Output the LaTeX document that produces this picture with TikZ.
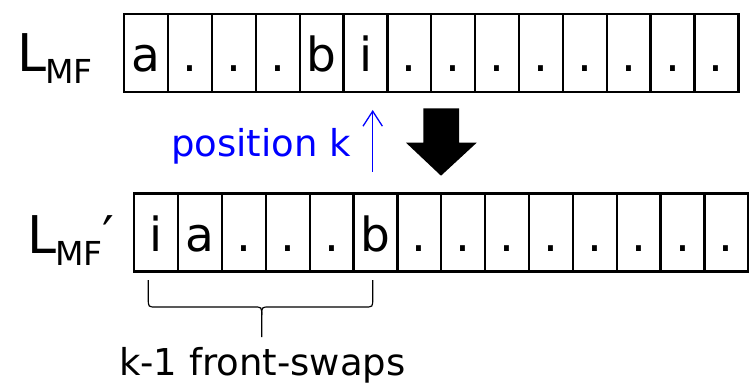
\documentclass[tikz,border=0pt]{standalone}
\usepackage{fontspec}
\setmainfont{DejaVu Sans}
\usetikzlibrary{arrows.meta}
\definecolor{pblue}{RGB}{0,0,255}
\begin{document}
\begin{tikzpicture}[x=1pt,y=-1pt,
  cell/.style={draw,line width=2.3pt,minimum width=43.86pt,inner sep=0pt,
    text height=58pt,text depth=20pt,font=\fontsize{47}{47}\selectfont},
  lbl/.style={anchor=base west,inner sep=0pt},
  biglbl/.style={lbl,font=\fontsize{52}{52}\selectfont},
  txt/.style={lbl,font=\fontsize{37}{37}\selectfont},
  bracestyle/.style={line width=1.2pt},
  ptr/.style={pblue,line width=1.3pt,-{Straight Barb[length=15pt,width=19.4pt]}}]
\useasboundingbox (0,0) rectangle (749,385);
% top row
\foreach \t [count=\i] in {a,.,.,.,b,i,.,.,.,.,.,.,.,.}
  \node[cell] (t\i) at ({124.3+43.86*(\i-0.5)},53) {\t};
% bottom row
\foreach \t [count=\i] in {i,a,.,.,.,b,.,.,.,.,.,.,.,.}
  \node[cell] (b\i) at ({134.3+43.86*(\i-0.5)},232.5) {\t};
% labels
\node[biglbl] (lmf) at (17,71.7) {L\kern-1pt\raisebox{-12.3pt}{\fontsize{33}{33}\selectfont MF}};
\node[biglbl] (lmfp) at (27,253.3) {L\kern-1pt\raisebox{-12.3pt}{\fontsize{33}{33}\selectfont MF}′};
\node[txt,text=pblue] (pos) at (171,156.7) {position k};
\node[txt] (swaps) at (119,375.8) {k-1 front-swaps};
% blue pointer
\coordinate (ka) at (372.7,171.7);
\coordinate (kb) at (372.7,110);
\draw[ptr] (ka) -- (kb);
% block arrow
\fill (423.3,108.3) -- (459,108.3) -- (459,142.7) -- (476.7,142.7) -- (441,175.7)
  -- (406,142.7) -- (423.3,142.7) -- cycle;
% brace
\coordinate (bl) at (148.3,280);
\coordinate (br) at (372.7,280);
\coordinate (btip) at (261.7,337);
\draw[bracestyle] (bl) -- (148.3,299) .. controls (148.3,307) .. (156.3,307)
  -- (253.7,307) .. controls (261.7,307) .. (261.7,315) -- (btip);
\draw[bracestyle] (br) -- (372.7,299) .. controls (372.7,307) .. (364.7,307)
  -- (269.7,307) .. controls (261.7,307) .. (261.7,315);
\end{tikzpicture}
\end{document}
